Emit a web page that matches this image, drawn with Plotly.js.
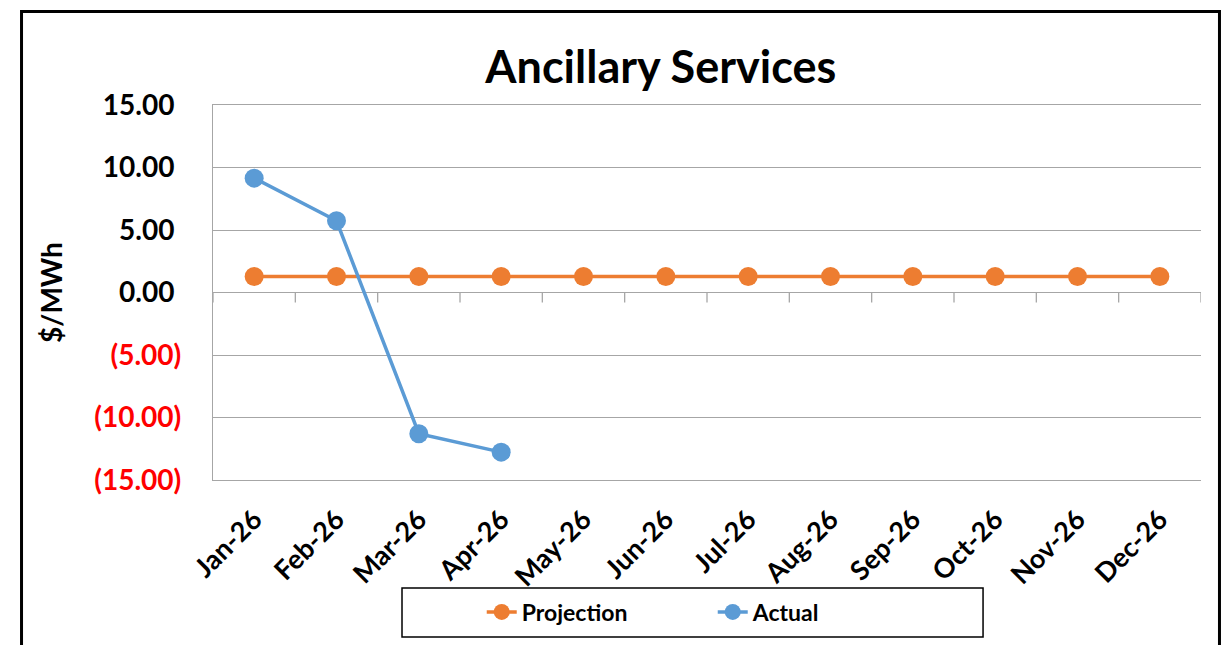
<!DOCTYPE html>
<html>
<head>
<meta charset="utf-8">
<script src="https://cdn.plot.ly/plotly-3.0.1.min.js"></script>
<style>
	html, body {margin: 0; padding: 0; background: #fff;}
	#chart {width: 1226px; height: 645px;}
</style>
</head>
<body>
<div id="chart"></div>
<script>
const months = ["Jan-26", "Feb-26", "Mar-26", "Apr-26", "May-26", "Jun-26",
	"Jul-26", "Aug-26", "Sep-26", "Oct-26", "Nov-26", "Dec-26"];
const projection = [1.28, 1.28, 1.28, 1.28, 1.28, 1.28, 1.28, 1.28, 1.28, 1.28, 1.28, 1.28];
const actualMonths = ["Jan-26", "Feb-26", "Mar-26", "Apr-26"];
const actual = [9.15, 5.74, -11.3, -12.77];
const yTicks = [15, 10, 5, 0, -5, -10, -15];

const orange = "#ED7D31";
const blue = "#5B9BD5";
const gridGrey = "#a6a6a6";
const font = "Lato, 'Open Sans', sans-serif";

// excel accounting style: negatives in red with brackets
const fmtTick = v => {
	if(v < 0){return `<span style="color:#ff0000">(${Math.abs(v).toFixed(2)})</span>`;}
	return v.toFixed(2) + "\u00a0";
};

// category boundaries: excel puts the x axis (with its tick marks) on y = 0
const boundaries = months.map((m, i) => i - 0.5).concat([months.length - 0.5]);
const zeroTicks = boundaries.map(b => ({
	type: "line", xref: "x", yref: "y",
	x0: b, x1: b,
	ysizemode: "pixel", yanchor: 0, y0: 0, y1: -10,
	line: {color: gridGrey, width: 1.3}
}));

const traces = [
	{
		x: months, y: projection, name: "Projection",
		type: "scatter", mode: "lines+markers",
		line: {color: orange, width: 3.5},
		marker: {color: orange, size: 19}
	},
	{
		x: actualMonths, y: actual, name: "Actual",
		type: "scatter", mode: "lines+markers",
		line: {color: blue, width: 3.5},
		marker: {color: blue, size: 19}
	}
];

const layout = {
	width: 1226,
	height: 645,
	margin: {l: 213, r: 25, t: 105, b: 165},
	paper_bgcolor: "#fff",
	plot_bgcolor: "#fff",
	font: {family: font, color: "#000", weight: "bold"},
	title: {
		text: "<b>Ancillary Services</b>",
		font: {family: font, size: 45, color: "#000"},
		x: 0.539, xref: "container", xanchor: "center",
		y: 0.895, yref: "container", yanchor: "middle"
	},
	xaxis: {
		type: "category",
		categoryorder: "array",
		categoryarray: months,
		range: [-0.5, months.length - 0.5],
		showline: true,
		mirror: true,
		linecolor: gridGrey,
		linewidth: 1,
		showgrid: false,
		zeroline: false,
		ticks: "",
		tickangle: -45,
		ticklabelstandoff: 12,
		tickfont: {family: font, size: 27, color: "#000", weight: "bold"}
	},
	yaxis: {
		range: [-15, 15],
		tickmode: "array",
		tickvals: yTicks,
		ticktext: yTicks.map(fmtTick),
		showgrid: true,
		gridcolor: gridGrey,
		gridwidth: 1,
		zeroline: true,
		zerolinecolor: gridGrey,
		zerolinewidth: 1.3,
		showline: true,
		linecolor: gridGrey,
		linewidth: 1.3,
		ticks: "",
		ticklabelstandoff: 25,
		automargin: true,
		tickfont: {family: font, size: 28, color: "#000", weight: "bold"},
		title: {
			text: "<b>$/MWh</b>",
			font: {family: font, size: 28, color: "#000"},
			standoff: 23
		}
	},
	showlegend: true,
	legend: {
		orientation: "h",
		x: 0.272, xanchor: "left",
		y: -0.352, yanchor: "middle",
		bgcolor: "rgba(0,0,0,0)",
		borderwidth: 0,
		entrywidth: 186,
		font: {family: font, size: 23, color: "#000", weight: "bold"}
	},
	shapes: zeroTicks.concat([
		// outer chart frame
		{type: "rect", xref: "paper", yref: "paper",
			x0: -0.1938, x1: 1.0187, y0: -0.48, y1: 1.2493,
			line: {color: "#000", width: 3}, fillcolor: "rgba(0,0,0,0)", layer: "above"},
		// legend box
		{type: "rect", xref: "paper", yref: "paper",
			x0: 0.1913, x1: 0.7794, y0: -0.4187, y1: -0.288,
			line: {color: "#000", width: 1.5}, fillcolor: "rgba(0,0,0,0)"}
	])
};

Plotly.newPlot("chart", traces, layout, {displayModeBar: false, responsive: false});
</script>
</body>
</html>
